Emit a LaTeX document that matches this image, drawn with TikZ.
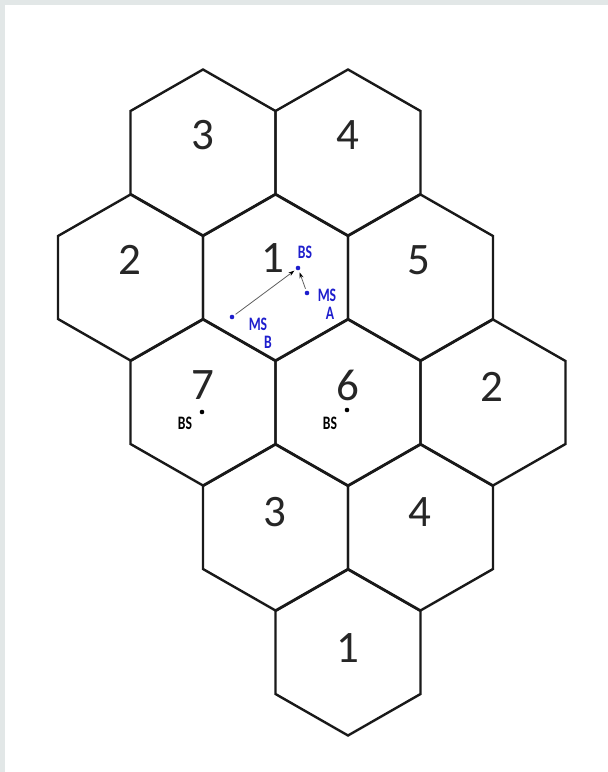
\documentclass[tikz,border=0pt]{standalone}
\usepackage{fontspec}
\setmainfont{Carlito}
\usetikzlibrary{arrows.meta}
\definecolor{framegray}{RGB}{226,231,231}
\definecolor{msblue}{RGB}{30,30,205}
\begin{document}
\begin{tikzpicture}[x=1pt,y=-1pt,
  hexline/.style={line width=2.4pt,line join=miter,draw=black!90},
  cellnum/.style={font=\fontsize{45}{45}\selectfont,inner sep=0pt,text=black!85},
  smalllab/.style={font=\fontsize{19}{19}\selectfont\bfseries,inner sep=0pt,xscale=0.72},
  dotpt/.style={circle,fill,inner sep=0pt,minimum size=4.6pt},
  linkarrow/.style={draw=gray!75!black,line width=0.8pt,-{Stealth[length=6pt,width=4pt,color=black]},shorten >=2pt,shorten <=2pt}]
\useasboundingbox (0,0) rectangle (608,772);
\fill[framegray] (0,0) rectangle (608,772);
\fill[white] (5,5) rectangle (608,772);
% hexagon cells
\def\hw{72.5}
\def\hr{83}
\def\hh{41.5}
\foreach \cx/\cy in {203/152.5, 348/152.5,
                     130.5/277.5, 275.5/277.5, 420.5/277.5,
                     203/402.5, 348/402.5, 493/402.5,
                     275.5/527.5, 420.5/527.5,
                     348/652.5}{
  \draw[hexline] (\cx,\cy-\hr) -- (\cx+\hw,\cy-\hh) -- (\cx+\hw,\cy+\hh)
     -- (\cx,\cy+\hr) -- (\cx-\hw,\cy+\hh) -- (\cx-\hw,\cy-\hh) -- cycle;
}
% cell numbers
\node[cellnum] (n3a) at (203,135) {3};
\node[cellnum] (n4a) at (348,135) {4};
\node[cellnum] (n2a) at (130,260) {2};
\node[cellnum] (n1a) at (273,258) {1};
\node[cellnum] (n5)  at (419,260) {5};
\node[cellnum] (n7)  at (203,385) {7};
\node[cellnum] (n6)  at (348,385) {6};
\node[cellnum] (n2b) at (492,387) {2};
\node[cellnum] (n3b) at (275,512) {3};
\node[cellnum] (n4b) at (420,512) {4};
\node[cellnum] (n1b) at (348,648) {1};
% base stations and mobiles in cell 1
\node[dotpt,msblue] (bs1) at (298,268) {};
\node[smalllab,text=msblue] (bs1lab) at (305,252) {BS};
\node[dotpt,msblue] (msa) at (307,293) {};
\node[smalllab,text=msblue] (msalab) at (327,295) {MS};
\node[smalllab,text=msblue] (msasub) at (330,313) {A};
\node[dotpt,msblue] (msb) at (232,317) {};
\node[smalllab,text=msblue] (msblab) at (258,324) {MS};
\node[smalllab,text=msblue] (msbsub) at (268,342) {B};
\draw[linkarrow] (msb) -- (bs1);
\draw[linkarrow] (msa) -- (bs1);
% base stations in cells 7 and 6
\node[dotpt,black] (bs7) at (202,412) {};
\node[smalllab,text=black] (bs7lab) at (185,423) {BS};
\node[dotpt,black] (bs6) at (347,410) {};
\node[smalllab,text=black] (bs6lab) at (330,423) {BS};
\end{tikzpicture}
\end{document}
